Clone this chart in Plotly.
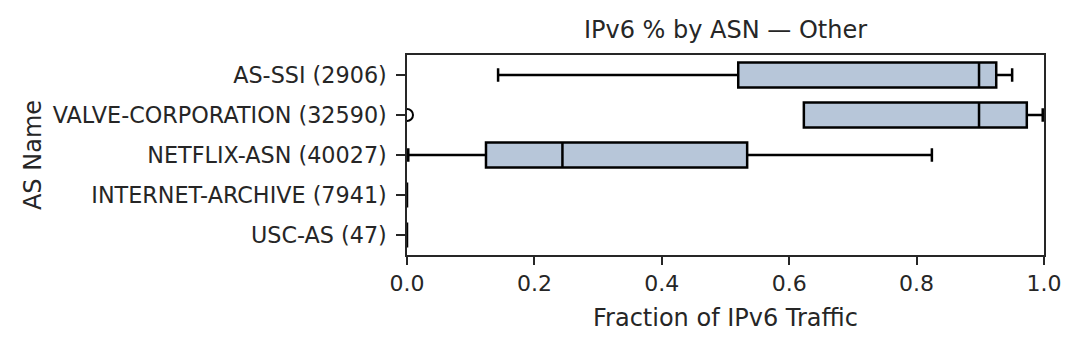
import plotly.graph_objects as go

# category order top -> bottom
asns = [
    "AS-SSI (2906)",
    "VALVE-CORPORATION (32590)",
    "NETFLIX-ASN (40027)",
    "INTERNET-ARCHIVE (7941)",
    "USC-AS (47)",
]
lower = [0.143, 0.623, 0.002, 0.0, 0.0]
q1 = [0.520, 0.623, 0.124, 0.0, 0.0]
median = [0.898, 0.898, 0.244, 0.0, 0.0]
q3 = [0.925, 0.973, 0.534, 0.0, 0.0]
upper = [0.950, 0.998, 0.824, 0.0, 0.0]

outlier_asn = ["VALVE-CORPORATION (32590)"]
outlier_val = [0.0]

FONT = "DejaVu Sans"
INK = "#262626"

fig = go.Figure()
fig.add_trace(
    go.Box(
        y=asns,
        q1=q1,
        median=median,
        q3=q3,
        lowerfence=lower,
        upperfence=upper,
        orientation="h",
        fillcolor="#b7c6d9",
        line=dict(color="black", width=2.5),
        width=0.62,
        whiskerwidth=0.55,
        boxpoints=False,
        showlegend=False,
        hoverinfo="skip",
    )
)
# flier sits on x=0, so half of it is clipped by the axis like the original
fig.add_trace(
    go.Scatter(
        x=outlier_val,
        y=outlier_asn,
        mode="markers",
        marker=dict(symbol="circle-open", size=12, color="black", line=dict(width=2)),
        showlegend=False,
        cliponaxis=True,
    )
)

fig.update_layout(
    width=1080,
    height=350,
    margin=dict(l=399, r=44, t=47, b=103),
    plot_bgcolor="white",
    paper_bgcolor="white",
    font=dict(family=FONT, size=22, color=INK),
    title=dict(
        text="IPv6 % by ASN — Other",
        x=(399 + 1036) / 2 / 1080,
        xanchor="center",
        y=1 - 22 / 350,
        yanchor="middle",
        font=dict(size=24),
    ),
)
fig.update_xaxes(
    range=[0, 1],
    tickvals=[0, 0.2, 0.4, 0.6, 0.8, 1.0],
    ticktext=["0.0", "0.2", "0.4", "0.6", "0.8", "1.0"],
    ticks="outside",
    ticklen=8,
    tickwidth=1.5,
    tickcolor=INK,
    tickfont=dict(size=22),
    showline=True,
    linecolor=INK,
    linewidth=1.5,
    mirror=True,
    showgrid=False,
    zeroline=False,
    title=dict(text="Fraction of IPv6 Traffic", standoff=14, font=dict(size=24)),
)
fig.update_yaxes(
    categoryorder="array",
    categoryarray=asns[::-1],
    range=[-0.5, 4.5],
    ticks="outside",
    ticklen=9,
    tickwidth=1.5,
    tickcolor=INK,
    tickfont=dict(size=22.3),
    ticklabelstandoff=5,
    showline=True,
    linecolor=INK,
    linewidth=1.5,
    mirror=True,
    showgrid=False,
    zeroline=False,
    title=dict(text="AS Name", standoff=4, font=dict(size=24)),
)

fig.write_html("out.html")
